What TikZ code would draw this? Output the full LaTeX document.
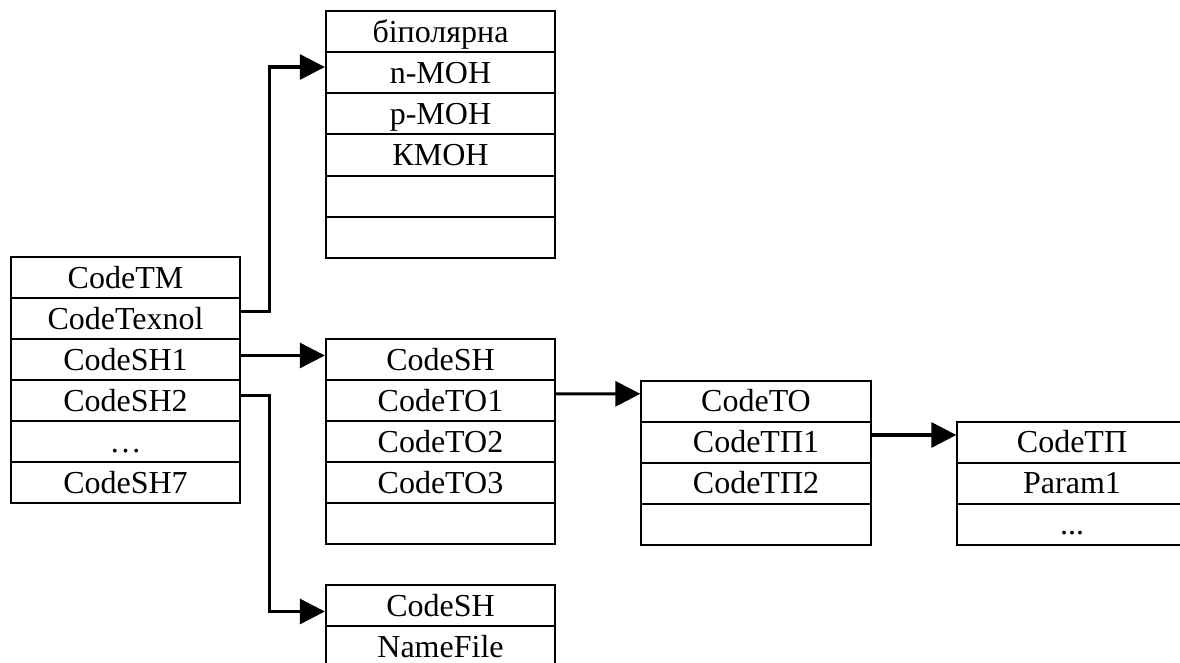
\documentclass[tikz,border=0pt]{standalone}
\usepackage{fontspec}
\setmainfont{Liberation Serif}
\usetikzlibrary{arrows.meta}
\begin{document}
\begin{tikzpicture}[x=0.75pt,y=-0.75pt,
  cell/.style={draw, line width=1.5pt, minimum width=172pt, minimum height=30.75pt,
    inner sep=0pt, text height=15.9pt, text depth=0pt, font=\fontsize{24}{29}\selectfont},
  conn/.style={line width=2.3pt, -{Triangle[length=18.75pt,width=18.75pt]}}]
\useasboundingbox (0,0) rectangle (1180,663);
\clip (0,0) rectangle (1180,663);
% table 1
\node[cell] (t1a) at (125.5,277.5) {CodeTM};
\node[cell] (t1b) at (125.5,318.5) {CodeTexnol};
\node[cell] (t1c) at (125.5,359.5) {CodeSH1};
\node[cell] (t1d) at (125.5,400.5) {CodeSH2};
\node[cell] (t1e) at (125.5,441.5) {…};
\node[cell] (t1f) at (125.5,482.5) {CodeSH7};
% table 2
\node[cell] (t2a) at (440.5,32) {біполярна};
\node[cell] (t2b) at (440.5,73) {n-МОН};
\node[cell] (t2c) at (440.5,114) {p-МОН};
\node[cell] (t2d) at (440.5,155) {КМОН};
\node[cell] (t2e) at (440.5,196) {};
\node[cell] (t2f) at (440.5,237) {};
% table 3
\node[cell] (t3a) at (440.5,359.5) {CodeSH};
\node[cell] (t3b) at (440.5,400.5) {CodeTO1};
\node[cell] (t3c) at (440.5,441.5) {CodeTO2};
\node[cell] (t3d) at (440.5,482.5) {CodeTO3};
\node[cell] (t3e) at (440.5,523.5) {};
% table 4
\node[cell] (t4a) at (440.5,605.5) {CodeSH};
\node[cell] (t4b) at (440.5,646.5) {NameFile};
% table 5
\node[cell] (t5a) at (756,401) {CodeTO};
\node[cell] (t5b) at (756,442) {CodeTП1};
\node[cell] (t5c) at (756,483) {CodeTП2};
\node[cell] (t5d) at (756,524) {};
% table 6
\node[cell] (t6a) at (1072,442) {CodeTП};
\node[cell] (t6b) at (1072,483) {Param1};
\node[cell] (t6c) at (1072,524) {...};
% connectors
\draw[conn] ([yshift=5.6pt]t1b.east) -- ++(28,0) |- ([yshift=4.5pt]t2b.west);
\draw[conn] ([yshift=3pt]t1c.east) -- ([yshift=3pt]t3a.west);
\draw[conn] ([yshift=4pt]t1d.east) -- ++(28,0) |- ([yshift=-4.5pt]t4a.west);
\draw[conn] ([yshift=5pt]t3b.east) -- ([yshift=5.4pt]t5a.west);
\draw[conn] ([yshift=5.25pt]t5b.east) -- ([yshift=5.25pt]t6a.west);
\end{tikzpicture}
\end{document}
